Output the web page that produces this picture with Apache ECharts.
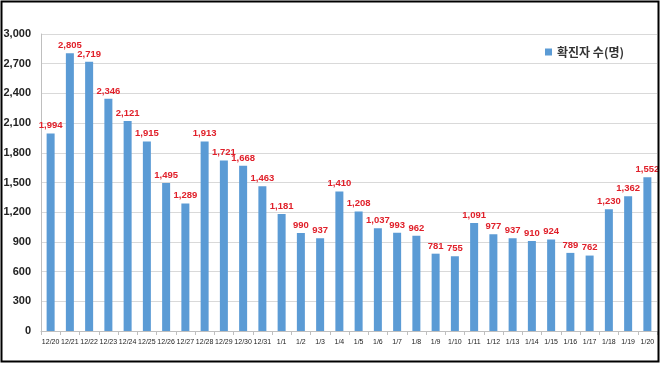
<!DOCTYPE html>
<html><head><meta charset="utf-8">
<script src="https://cdn.jsdelivr.net/npm/echarts@6/dist/echarts.min.js"></script>
<style>html,body{margin:0;padding:0;background:#fff}#c{width:661px;height:365px}</style>
</head><body><div id="c"></div>
<script>
const categories = ["12/20","12/21","12/22","12/23","12/24","12/25","12/26","12/27","12/28","12/29","12/30","12/31","1/1","1/2","1/3","1/4","1/5","1/6","1/7","1/8","1/9","1/10","1/11","1/12","1/13","1/14","1/15","1/16","1/17","1/18","1/19","1/20"];
const cases = [1994,2805,2719,2346,2121,1915,1495,1289,1913,1721,1668,1463,1181,990,937,1410,1208,1037,993,962,781,755,1091,977,937,910,924,789,762,1230,1362,1552];
const seriesName = "확진자 수(명)";
const yMin = 0, yMax = 3000, yStep = 300;

const chart = echarts.init(document.getElementById('c'));
chart.setOption({
  animation: false,
  textStyle: {fontFamily: 'Liberation Sans, Noto Sans CJK KR, sans-serif'},
  graphic: [{type:'rect', shape:{x:1.5,y:1.5,width:657,height:360}, style:{fill:'none', stroke:'#000', lineWidth:2}, z:100}],
  legend: {
    right: 32, top: 41, itemWidth: 7, itemHeight: 7, itemGap: 4,
    textStyle: {fontSize: 12, fontWeight: 'bold', color: '#333', fontFamily: 'Noto Sans CJK KR'},
    data: [{name: seriesName, icon: 'rect'}]
  },
  grid: {left: 41, right: 4, top: 34, bottom: 34, containLabel: false},
  xAxis: {
    type: 'category', data: categories,
    axisLine: {lineStyle: {color: '#bfbfbf'}},
    axisTick: {show: true, length: 4, lineStyle: {color: '#bfbfbf'}},
    axisLabel: {interval: 0, fontSize: 7, color: '#222', margin: 8, fontFamily: 'Liberation Sans Narrow, Liberation Sans, sans-serif'}
  },
  yAxis: {
    type: 'value', min: yMin, max: yMax, interval: yStep,
    axisLine: {show: true, lineStyle: {color: '#bfbfbf'}},
    splitLine: {lineStyle: {color: '#d9d9d9'}},
    axisLabel: {fontSize: 11, fontWeight: 'bold', color: '#222', margin: 10,
      formatter: v => v.toLocaleString('en-US')}
  },
  series: [{
    name: seriesName, type: 'bar', data: cases, barWidth: 8,
    itemStyle: {color: '#5b9bd5'},
    label: {show: true, position: 'top', distance: 3, color: '#e0202a', fontSize: 9.5, fontWeight: 'bold',
      formatter: p => p.value.toLocaleString('en-US')}
  }]
});
</script></body></html>
